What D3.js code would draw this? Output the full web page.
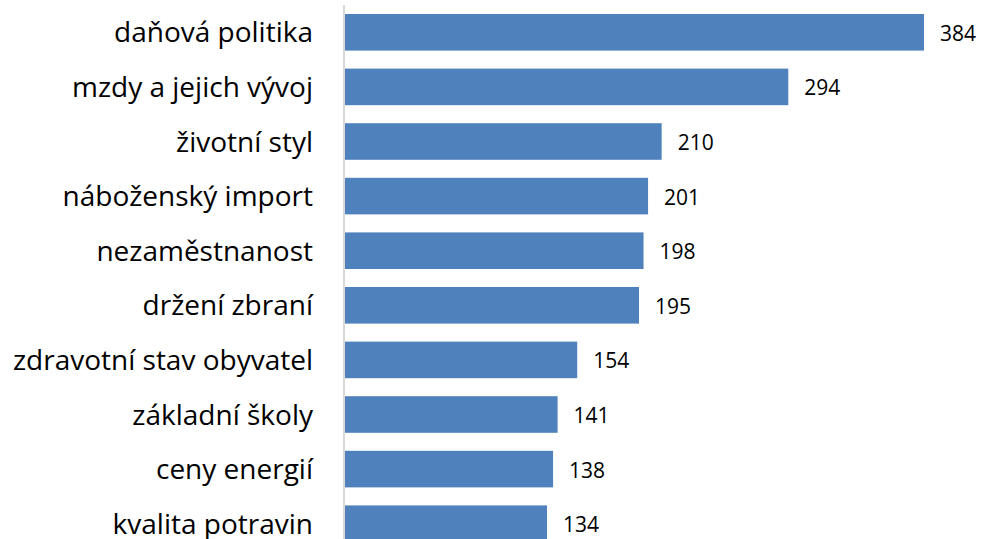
<!DOCTYPE html>
<html>
<head>
<meta charset="utf-8">
<script src="https://cdnjs.cloudflare.com/ajax/libs/d3/7.8.5/d3.min.js"></script>
<style>
  body { margin: 0; background: #fff; }
  svg { display: block; }
</style>
</head>
<body>
<div id="chart"></div>
<script>
const categories = [
    "daňová politika",
    "mzdy a jejich vývoj",
    "životní styl",
    "náboženský import",
    "nezaměstnanost",
    "držení zbraní",
    "zdravotní stav obyvatel",
    "základní školy",
    "ceny energií",
    "kvalita potravin"
];
const values = [384, 294, 210, 201, 198, 195, 154, 141, 138, 134];

const width = 983;
const height = 539;
const axisX = 344;

const svg = d3.select("#chart")
    .append("svg")
        .attr("width", width)
        .attr("height", height);

const x = d3.scaleLinear()
    .domain([0, 384])
    .range([axisX + 1, 924]);

const y = d3.scaleBand()
    .domain(categories)
    .range([5, 551])
    .paddingInner(0.33)
    .paddingOuter(0.165);

svg.append("g")
    .selectAll("rect")
    .data(values)
    .enter()
    .append("rect")
        .attr("x", x(0))
        .attr("y", (d, i) => y(categories[i]))
        .attr("width", d => x(d) - x(0))
        .attr("height", y.bandwidth())
        .attr("fill", "#4f81bd");

// vertical category axis line
svg.append("line")
    .attr("x1", axisX)
    .attr("x2", axisX)
    .attr("y1", 5)
    .attr("y2", height)
    .attr("stroke", "#d9d9d9")
    .attr("stroke-width", 2);

svg.append("g")
    .selectAll("text")
    .data(categories)
    .enter()
    .append("text")
        .attr("x", 313)
        .attr("y", d => y(d) + y.bandwidth() / 2 + 10)
        .attr("text-anchor", "end")
        .attr("font-family", "'Open Sans', sans-serif")
        .attr("font-size", 28)
        .attr("fill", "#000")
        .text(d => d);

svg.append("g")
    .selectAll("text")
    .data(values)
    .enter()
    .append("text")
        .attr("x", d => x(d) + 16)
        .attr("y", (d, i) => y(categories[i]) + y.bandwidth() / 2 + 8.5)
        .attr("font-family", "'Open Sans', sans-serif")
        .attr("font-size", 21)
        .attr("fill", "#000")
        .text(d => d);
</script>
</body>
</html>
